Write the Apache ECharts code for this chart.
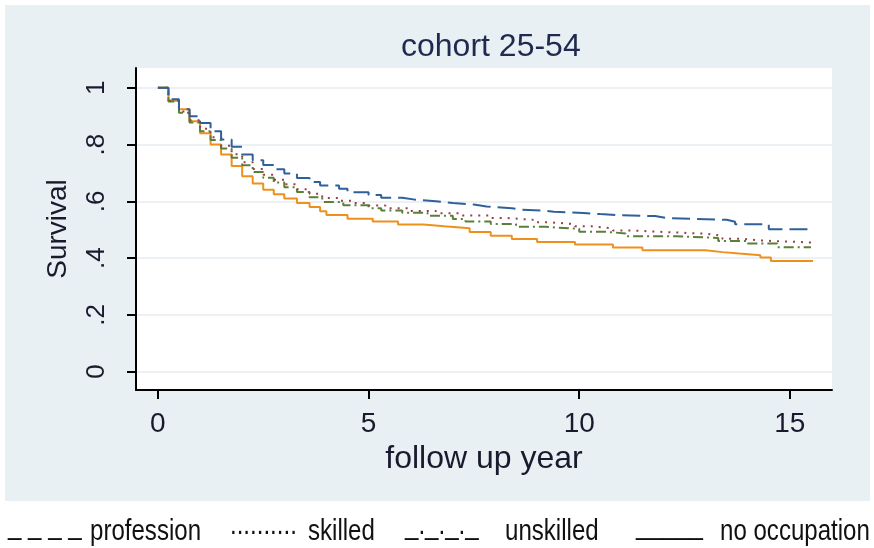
<!DOCTYPE html>
<html>
<head>
<meta charset="utf-8">
<script src="https://cdn.jsdelivr.net/npm/echarts@6/dist/echarts.min.js"></script>
<style>
	html, body { margin: 0; padding: 0; background: #fff; }
	#chart { width: 874px; height: 548px; }
</style>
</head>
<body>
<div id="chart"></div>
<script>
// Kaplan-Meier style survival, [follow up year, survival]
const profession = [
	[0, 1], [0.25, 0.96], [0.5, 0.925], [0.75, 0.9], [1, 0.876], [1.25, 0.847], [1.5, 0.818],
	[1.75, 0.792], [2, 0.765], [2.25, 0.745], [2.5, 0.728], [2.75, 0.713], [3, 0.698],
	[3.3, 0.682], [3.6, 0.668], [3.85, 0.656], [4.3, 0.644], [4.5, 0.632], [5, 0.622],
	[5.3, 0.613], [5.8, 0.606], [6.1, 0.6], [6.6, 0.594], [7, 0.589], [7.5, 0.582],
	[7.8, 0.576], [8.4, 0.571], [8.6, 0.567], [9.2, 0.563], [9.4, 0.559], [10.1, 0.555],
	[10.5, 0.551], [11, 0.548], [11.8, 0.541], [12.1, 0.535], [13.5, 0.528], [13.7, 0.519],
	[14.5, 0.502], [15.57, 0.502]
];
const skilled = [
	[0, 1], [0.25, 0.955], [0.5, 0.917], [0.75, 0.886], [1, 0.856], [1.25, 0.826], [1.5, 0.796],
	[1.75, 0.766], [2, 0.738], [2.25, 0.714], [2.5, 0.694], [2.75, 0.676], [3, 0.66],
	[3.3, 0.643], [3.6, 0.627], [3.9, 0.612], [4.3, 0.602], [4.6, 0.594], [5, 0.585],
	[5.4, 0.576], [6, 0.566], [6.6, 0.558], [7.2, 0.55], [7.9, 0.541], [8.3, 0.535],
	[8.9, 0.526], [9.3, 0.52], [9.9, 0.512], [10.3, 0.505], [10.8, 0.497], [11.3, 0.492],
	[12, 0.486], [13, 0.479], [13.4, 0.468], [13.9, 0.462], [14.3, 0.455], [15.5, 0.455]
];
const unskilled = [
	[0, 1], [0.25, 0.952], [0.5, 0.912], [0.75, 0.878], [1, 0.847], [1.25, 0.816], [1.5, 0.786],
	[1.75, 0.754], [2, 0.727], [2.25, 0.703], [2.5, 0.683], [2.75, 0.666], [3, 0.65],
	[3.3, 0.633], [3.6, 0.614], [3.9, 0.598], [4.4, 0.586], [5, 0.576], [5.3, 0.568],
	[5.8, 0.56], [6.4, 0.549], [7, 0.538], [7.3, 0.529], [7.9, 0.52], [8.5, 0.51],
	[9.2, 0.503], [10, 0.493], [10.6, 0.487], [11.1, 0.477], [12.3, 0.471], [13.3, 0.46],
	[14, 0.451], [14.7, 0.438], [15.5, 0.438]
];
const noOccupation = [
	[0, 1], [0.25, 0.955], [0.5, 0.925], [0.75, 0.882], [1, 0.84], [1.25, 0.8], [1.5, 0.765],
	[1.75, 0.725], [2, 0.688], [2.25, 0.663], [2.5, 0.641], [2.75, 0.625], [3, 0.61],
	[3.3, 0.594], [3.6, 0.58], [3.85, 0.565], [4, 0.552], [4.5, 0.539], [5.1, 0.529],
	[5.7, 0.518], [6.3, 0.512], [6.8, 0.505], [7.4, 0.492], [7.9, 0.479], [8.4, 0.467],
	[9, 0.457], [9.9, 0.448], [10.8, 0.437], [11.5, 0.428], [13, 0.421], [13.4, 0.416],
	[13.8, 0.41], [14.3, 0.402], [14.55, 0.39], [15.55, 0.388]
];

const seriesNames = ['profession', 'skilled', 'unskilled', 'no occupation'];
const legendMarks = ['_ _ _ _', '..........', '_._._._', '_____'];
const xTicks = [0, 5, 10, 15];
const yTicks = [0, 0.2, 0.4, 0.6, 0.8, 1];

const colors = ['#30609a', '#9a3f4a', '#5b7f37', '#f0901c'];
const dashes = [[18, 7], [2, 6], [10, 4, 2, 4], 'solid'];
const seriesData = [profession, skilled, unskilled, noOccupation];

const chart = echarts.init(document.getElementById('chart'));

// legend is plain text under the plot, squeezed to look like a narrow font
const legendX = [[8, 90], [230, 308], [405, 505], [636, 720]];
const legendFont = "29px 'Liberation Sans', Arial, sans-serif";
const legendTexts = [];
seriesNames.forEach((name, i) => {
	legendTexts.push({
		type: 'text', x: legendX[i][0], y: 540, scaleX: 0.83,
		style: { text: legendMarks[i], font: legendFont, fill: '#111', verticalAlign: 'bottom' }
	});
	legendTexts.push({
		type: 'text', x: legendX[i][1], y: 546, scaleX: 0.83,
		style: { text: name, font: legendFont, fill: '#111', verticalAlign: 'bottom' }
	});
});

chart.setOption({
	animation: false,
	textStyle: { fontFamily: "'Liberation Sans', Arial, sans-serif" },
	title: {
		text: 'cohort 25-54',
		left: 396, top: 26,
		textStyle: { fontSize: 32, fontWeight: 'normal', color: '#1e2a50' }
	},
	graphic: [
		{ type: 'rect', z: -10, shape: { x: 5, y: 5, width: 865, height: 496 }, style: { fill: '#e8f0f3' } },
		...legendTexts
	],
	grid: { left: 136, right: 42, top: 68, bottom: 158, show: true, backgroundColor: '#fff', borderWidth: 0 },
	xAxis: {
		type: 'value', min: -0.52, max: 16,
		name: 'follow up year', nameLocation: 'middle', nameGap: 43,
		nameTextStyle: { fontSize: 32, color: '#1a1a2e' },
		axisLine: { show: true, onZero: false, lineStyle: { color: '#000', width: 2 } },
		axisTick: { show: true, customValues: xTicks, length: 9, lineStyle: { color: '#000', width: 2 } },
		axisLabel: { customValues: xTicks, fontSize: 28, color: '#1a1a2e', margin: 20 },
		splitLine: { show: false }
	},
	yAxis: {
		type: 'value', min: -0.065, max: 1.07,
		name: 'Survival', nameLocation: 'middle', nameGap: 64,
		nameTextStyle: { fontSize: 28, color: '#1a1a2e' },
		axisLine: { show: true, onZero: false, lineStyle: { color: '#000', width: 2 } },
		axisTick: { show: true, customValues: yTicks, length: 9, lineStyle: { color: '#000', width: 2 } },
		axisLabel: {
			customValues: yTicks, fontSize: 26, color: '#1a1a2e', margin: 26, rotate: 90,
			formatter: v => (v === 0 || v === 1) ? String(v) : v.toFixed(1).replace(/^0/, '')
		},
		splitLine: { show: true, lineStyle: { color: '#e4edf0', width: 1.5 } }
	},
	series: seriesData.map((d, i) => ({
		name: seriesNames[i],
		type: 'line',
		step: 'end',
		data: d,
		showSymbol: false,
		lineStyle: { color: colors[i], width: 2, type: dashes[i] },
		z: 10 - i
	}))
});
</script>
</body>
</html>
